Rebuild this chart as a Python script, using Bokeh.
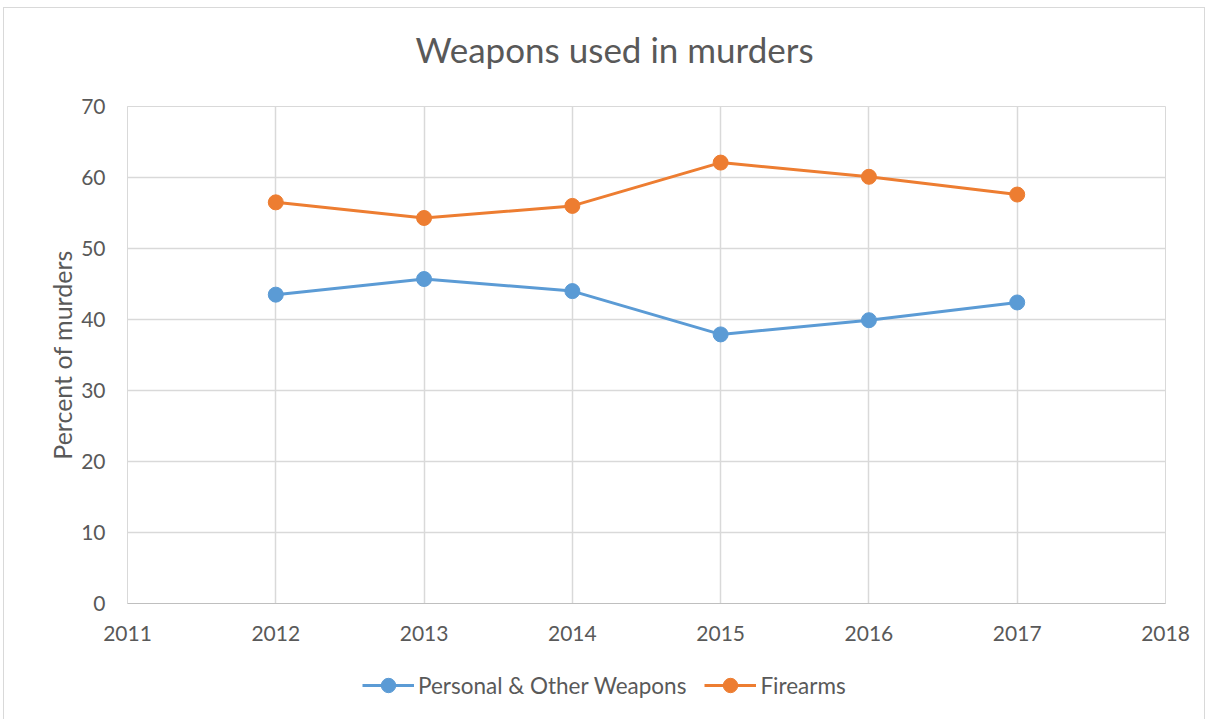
from bokeh.plotting import figure
from bokeh.models import Legend, LegendItem, FixedTicker, Label
from bokeh.layouts import column
from bokeh.embed import file_html
from bokeh.resources import INLINE

years = [2012, 2013, 2014, 2015, 2016, 2017]
personal = [43.5, 45.7, 44.0, 37.9, 39.9, 42.4]
firearms = [56.5, 54.3, 56.0, 62.1, 60.1, 57.6]
x_ticks = [2011, 2012, 2013, 2014, 2015, 2016, 2017, 2018]
y_ticks = [0, 10, 20, 30, 40, 50, 60, 70]
series_names = ["Personal & Other Weapons", "Firearms"]
title_text = "Weapons used in murders"

FONT = "Lato"
TXT = "#595959"
GRID = "#d9d9d9"
BLUE = "#5b9bd5"
ORANGE = "#ed7d31"

# header strip with the title
hd = figure(width=1200, height=80, x_range=(0, 1), y_range=(0, 1),
            x_axis_type=None, y_axis_type=None,
            output_backend="svg", toolbar_location=None,
            min_border=0, outline_line_color=None)
hd.grid.visible = False
hd.add_layout(Label(x=487, y=40, x_units="screen", y_units="screen", text=title_text,
                    text_font=FONT, text_font_size="35px", text_color=TXT,
                    text_align="center", text_baseline="middle"))

# main chart
p = figure(width=1200, height=567, x_range=(2011, 2018), y_range=(0, 70),
           output_backend="svg", toolbar_location=None,
           min_border_left=123, min_border_right=39, min_border_top=18, min_border_bottom=52)

p.outline_line_color = GRID
p.background_fill_color = "white"

p.xaxis.ticker = FixedTicker(ticks=x_ticks)
p.yaxis.ticker = FixedTicker(ticks=y_ticks)
for ax in (p.xaxis, p.yaxis):
    ax.major_tick_line_color = None
    ax.minor_tick_line_color = None
    ax.major_label_text_font = FONT
    ax.major_label_text_font_size = "21px"
    ax.major_label_text_color = TXT
p.xaxis.axis_line_color = "#bfbfbf"
p.yaxis.axis_line_color = GRID
p.xaxis.major_label_standoff = 16
p.yaxis.major_label_standoff = 16

p.yaxis.axis_label = "Percent of murders"
p.yaxis.axis_label_text_font = FONT
p.yaxis.axis_label_text_font_size = "25px"
p.yaxis.axis_label_text_font_style = "normal"
p.yaxis.axis_label_text_color = TXT
p.yaxis.axis_label_standoff = 1

p.xgrid.grid_line_color = GRID
p.ygrid.grid_line_color = GRID
p.xgrid.grid_line_width = 1.5
p.ygrid.grid_line_width = 1.5

p.line(years, personal, line_color=BLUE, line_width=3)
p.scatter(years, personal, size=15, fill_color=BLUE, line_color=BLUE)
p.line(years, firearms, line_color=ORANGE, line_width=3)
p.scatter(years, firearms, size=15, fill_color=ORANGE, line_color=ORANGE)

# legend strip below the chart (its renderers lie outside this strip's ranges)
lg = figure(width=1200, height=65, x_range=(0, 1), y_range=(0, 1),
            x_axis_type=None, y_axis_type=None,
            output_backend="svg", toolbar_location=None,
            min_border=0, outline_line_color=None)
lg.grid.visible = False
r1 = lg.line(years, personal, line_color=BLUE, line_width=3)
m1 = lg.scatter(years, personal, size=15, fill_color=BLUE, line_color=BLUE)
r2 = lg.line(years, firearms, line_color=ORANGE, line_width=3)
m2 = lg.scatter(years, firearms, size=15, fill_color=ORANGE, line_color=ORANGE)
legend = Legend(items=[LegendItem(label=series_names[0], renderers=[r1, m1]),
                       LegendItem(label=series_names[1], renderers=[r2, m2])],
                orientation="horizontal", location=(235, 17),
                label_text_font=FONT, label_text_font_size="22.5px", label_text_color=TXT,
                glyph_width=52, glyph_height=36, spacing=18, border_line_color=None,
                background_fill_alpha=0, margin=0, padding=0, label_standoff=4)
lg.add_layout(legend, "center")

layout = column(hd, p, lg, spacing=0,
                styles={"margin-left": "3px", "margin-top": "7px", "border": "1px solid #d9d9d9"})

open("out.html", "w").write(file_html(layout, INLINE))
